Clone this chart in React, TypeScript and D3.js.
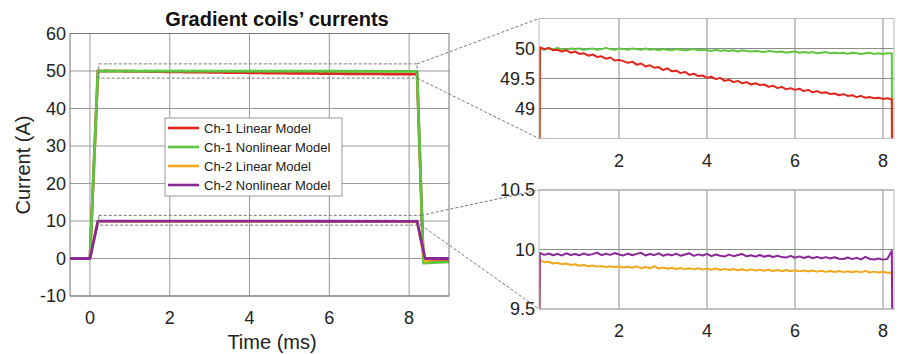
import * as d3 from 'd3';
import { useEffect, useRef } from 'react';

// time base of the flat top (ms)
const flatTimes = d3.range(0, 81).map(i => +(0.2 + i * 0.1).toFixed(2));

const ch1Linear = [
  50.02, 49.99, 50.01, 49.97, 49.98, 49.95, 49.97, 49.93, 49.95, 49.91,
  49.92, 49.88, 49.9, 49.86, 49.87, 49.83, 49.85, 49.8, 49.81, 49.79,
  49.76, 49.78, 49.73, 49.75, 49.7, 49.72, 49.68, 49.69, 49.64, 49.67,
  49.62, 49.63, 49.59, 49.61, 49.56, 49.58, 49.54, 49.55, 49.51, 49.53,
  49.49, 49.51, 49.46, 49.48, 49.44, 49.46, 49.42, 49.44, 49.4, 49.42,
  49.39, 49.4, 49.36, 49.38, 49.34, 49.36, 49.32, 49.34, 49.31, 49.33,
  49.29, 49.31, 49.27, 49.29, 49.26, 49.27, 49.24, 49.25, 49.22, 49.24,
  49.21, 49.22, 49.19, 49.21, 49.18, 49.19, 49.17, 49.18, 49.16, 49.17,
  49.15,
];
const ch1Nonlinear = [
  50.0, 49.98, 50.0, 49.99, 50.01, 49.99, 49.98, 50.0, 49.99, 50.0,
  49.98, 49.99, 50.0, 49.98, 49.99, 50.01, 49.99, 49.98, 50.0, 49.99,
  49.98, 50.0, 49.99, 49.98, 50.0, 49.98, 49.99, 49.97, 49.99, 49.98,
  49.97, 49.99, 49.98, 49.97, 49.98, 49.99, 49.97, 49.98, 49.97, 49.96,
  49.98, 49.96, 49.97, 49.96, 49.97, 49.95, 49.97, 49.96, 49.95, 49.96,
  49.95, 49.94, 49.96, 49.95, 49.94, 49.95, 49.93, 49.94, 49.95, 49.93,
  49.94, 49.93, 49.94, 49.92, 49.93, 49.94, 49.92, 49.93, 49.92, 49.93,
  49.91, 49.93, 49.92, 49.91, 49.92, 49.93, 49.91, 49.92, 49.91, 49.92,
  49.92,
];
const ch2Linear = [
  9.912, 9.893, 9.897, 9.882, 9.888, 9.876, 9.882, 9.87, 9.876, 9.864,
  9.87, 9.86, 9.866, 9.856, 9.862, 9.852, 9.86, 9.851, 9.857, 9.848,
  9.855, 9.847, 9.858, 9.843, 9.853, 9.842, 9.86, 9.84, 9.848, 9.839,
  9.847, 9.836, 9.845, 9.835, 9.842, 9.833, 9.843, 9.831, 9.839, 9.83,
  9.84, 9.828, 9.837, 9.827, 9.836, 9.825, 9.834, 9.824, 9.833, 9.823,
  9.831, 9.821, 9.83, 9.82, 9.828, 9.818, 9.827, 9.817, 9.825, 9.816,
  9.824, 9.815, 9.823, 9.814, 9.821, 9.812, 9.82, 9.811, 9.819, 9.81,
  9.818, 9.809, 9.817, 9.808, 9.82, 9.807, 9.814, 9.806, 9.813, 9.805,
  9.806,
];
const ch2Nonlinear = [
  9.972, 9.955, 9.966, 9.952, 9.963, 9.95, 9.968, 9.954, 9.962, 9.951,
  9.967, 9.953, 9.961, 9.974, 9.952, 9.965, 9.955, 9.97, 9.958, 9.95,
  9.966, 9.952, 9.963, 9.972, 9.95, 9.962, 9.953, 9.968, 9.948, 9.96,
  9.951, 9.965, 9.947, 9.958, 9.968, 9.946, 9.959, 9.95, 9.963, 9.944,
  9.958, 9.947, 9.942, 9.957, 9.944, 9.953, 9.962, 9.943, 9.952, 9.94,
  9.954, 9.939, 9.949, 9.937, 9.947, 9.936, 9.932, 9.946, 9.931, 9.942,
  9.929, 9.941, 9.927, 9.938, 9.926, 9.936, 9.924, 9.935, 9.922, 9.92,
  9.933, 9.919, 9.93, 9.917, 9.938, 9.92, 9.916, 9.924, 9.915, 9.921,
  9.99,
];

// before the pulse (all channels at 0)
const preTimes = [-0.5, 0];
const preValues = [0, 0];
// after the pulse
const ch1FallTimes = [8.36, 8.6, 9];
const ch1LinearFall = [-1.0, -0.8, -0.6];
const ch1NonlinearFall = [-1.2, -1.1, -0.9];
const ch2FallTimes = [8.4, 8.6, 9];
const ch2LinearFall = [-0.8, -0.2, 0];
const ch2NonlinearFall = [0, 0, 0];

const seriesNames = ['Ch-1 Linear Model', 'Ch-1 Nonlinear Model', 'Ch-2 Linear Model', 'Ch-2 Nonlinear Model'];
const seriesColors = ['#e3261d', '#5cc641', '#f0a81c', '#8a2896'];

// zoomed regions [t0, t1, i0, i1]
const zoomUpper = [0.22, 8.2, 48.1, 51.9];
const zoomLower = [0.22, 8.3, 8.9, 11.5];

const mainYTicks = [-10, 0, 10, 20, 30, 40, 50, 60];
const mainXTicks = [0, 2, 4, 6, 8];
const insetXTicks = [2, 4, 6, 8];
const upperYTicks = [49, 49.5, 50];
const lowerYTicks = [9.5, 10, 10.5];

const build = (flat: number[], fallT: number[], fallV: number[]) => [
  ...preTimes.map((t, i) => [t, preValues[i]]),
  ...flatTimes.map((t, i) => [t, flat[i]]),
  ...fallT.map((t, i) => [t, fallV[i]]),
] as [number, number][];

const FONT = "'Liberation Sans', Arial, sans-serif";

const App = () => {
  const ref = useRef<SVGSVGElement>(null);

  useEffect(() => {
    const svg = d3.select(ref.current);
    svg.selectAll('*').remove();

    const all = [
      build(ch1Linear, ch1FallTimes, ch1LinearFall),
      build(ch1Nonlinear, ch1FallTimes, ch1NonlinearFall),
      build(ch2Linear, ch2FallTimes, ch2LinearFall),
      build(ch2Nonlinear, ch2FallTimes, ch2NonlinearFall),
    ];

    const drawPanel = (opts: {
      id: string; x: d3.ScaleLinear<number, number>; y: d3.ScaleLinear<number, number>;
      xTicks: number[]; yTicks: number[]; which: number[]; lw: number;
      gridColor: string; frameColor: string;
    }) => {
      const { id, x, y, xTicks, yTicks, which, lw } = opts;
      const [x0, x1] = x.range();
      const [y0, y1] = y.range();
      const g = svg.append('g');

      g.append('rect').attr('x', x0).attr('y', y1).attr('width', x1 - x0).attr('height', y0 - y1)
        .attr('fill', '#fff');

      g.selectAll('.vg').data(xTicks).enter().append('line')
        .attr('x1', d => x(d)).attr('x2', d => x(d)).attr('y1', y1).attr('y2', y0)
        .attr('stroke', opts.gridColor).attr('stroke-width', 1);
      g.selectAll('.hg').data(yTicks).enter().append('line')
        .attr('x1', x0).attr('x2', x1).attr('y1', d => y(d)).attr('y2', d => y(d))
        .attr('stroke', opts.gridColor).attr('stroke-width', 1);

      svg.append('clipPath').attr('id', id).append('rect')
        .attr('x', x0).attr('y', y1).attr('width', x1 - x0).attr('height', y0 - y1);

      const line = d3.line<[number, number]>().x(d => x(d[0])).y(d => y(d[1]));
      const lines = g.append('g').attr('clip-path', `url(#${id})`);
      which.forEach(k => {
        lines.append('path').attr('d', line(all[k])).attr('fill', 'none')
          .attr('stroke', seriesColors[k]).attr('stroke-width', lw).attr('stroke-linejoin', 'round');
      });

      g.append('rect').attr('x', x0).attr('y', y1).attr('width', x1 - x0).attr('height', y0 - y1)
        .attr('fill', 'none').attr('stroke', opts.frameColor).attr('stroke-width', 1);

      g.selectAll('.xl').data(xTicks).enter().append('text')
        .attr('x', d => x(d)).attr('y', y0 + 28).attr('text-anchor', 'middle')
        .attr('font-family', FONT).attr('font-size', 18).attr('fill', '#222')
        .text(d => d);
      g.selectAll('.yl').data(yTicks).enter().append('text')
        .attr('x', x0 - 4).attr('y', d => y(d)).attr('dy', '0.36em').attr('text-anchor', 'end')
        .attr('font-family', FONT).attr('font-size', 18).attr('fill', '#222')
        .text(d => d);
      return g;
    };

    // main plot
    const xMain = d3.scaleLinear().domain([-0.5, 9]).range([70, 449]);
    const yMain = d3.scaleLinear().domain([-10, 60]).range([296, 33.5]);
    drawPanel({ id: 'clipMain', x: xMain, y: yMain, xTicks: mainXTicks, yTicks: mainYTicks,
      which: [0, 1, 2, 3], lw: 2.8, gridColor: '#999', frameColor: '#777' });

    // insets
    const xIn = d3.scaleLinear().domain([0.18, 8.25]).range([539, 894]);
    const yUp = d3.scaleLinear().domain([48.5, 50.5]).range([138.5, 18.5]);
    const yLo = d3.scaleLinear().domain([9.5, 10.5]).range([309, 190]);
    drawPanel({ id: 'clipUp', x: xIn, y: yUp, xTicks: insetXTicks, yTicks: upperYTicks,
      which: [1, 0], lw: 2, gridColor: '#8c8c8c', frameColor: '#bbb' });
    drawPanel({ id: 'clipLo', x: xIn, y: yLo, xTicks: insetXTicks, yTicks: lowerYTicks,
      which: [2, 3], lw: 2, gridColor: '#8c8c8c', frameColor: '#bbb' });

    // zoom boxes and connectors
    const dash = svg.append('g').attr('stroke', '#777').attr('stroke-width', 1)
      .attr('stroke-dasharray', '3,2').attr('fill', 'none');
    [[zoomUpper, yUp], [zoomLower, yLo]].forEach(([z, yi]: any) => {
      const [t0, t1, i0, i1] = z;
      const bx0 = xMain(t0), bx1 = xMain(t1), by0 = yMain(i0), by1 = yMain(i1);
      dash.append('rect').attr('x', bx0).attr('y', by1).attr('width', bx1 - bx0).attr('height', by0 - by1);
      const [iy0, iy1] = yi.range();
      const ix = xIn.range()[0];
      dash.append('line').attr('x1', bx1).attr('y1', by1).attr('x2', ix).attr('y2', iy1);
      dash.append('line').attr('x1', bx1).attr('y1', by0).attr('x2', ix).attr('y2', iy0);
    });

    // legend
    const lg = svg.append('g').attr('transform', 'translate(165,118)');
    lg.append('rect').attr('width', 177).attr('height', 78).attr('fill', '#fff')
      .attr('stroke', '#999').attr('stroke-width', 1);
    seriesNames.forEach((name, i) => {
      const cy = 10 + i * 19;
      lg.append('line').attr('x1', 3).attr('x2', 34).attr('y1', cy).attr('y2', cy)
        .attr('stroke', seriesColors[i]).attr('stroke-width', 2.6);
      lg.append('text').attr('x', 39).attr('y', cy).attr('dy', '0.36em')
        .attr('font-family', FONT).attr('font-size', 13).attr('fill', '#222').text(name);
    });

    // titles
    svg.append('text').attr('x', 277).attr('y', 26).attr('text-anchor', 'middle')
      .attr('font-family', FONT).attr('font-size', 20).attr('font-weight', 'bold')
      .attr('fill', '#111').text('Gradient coils\u2019 currents');
    svg.append('text').attr('x', 272).attr('y', 349).attr('text-anchor', 'middle')
      .attr('font-family', FONT).attr('font-size', 20).attr('fill', '#222').text('Time (ms)');
    svg.append('text').attr('transform', 'translate(30,165) rotate(-90)').attr('text-anchor', 'middle')
      .attr('font-family', FONT).attr('font-size', 20).attr('fill', '#222').text('Current (A)');
  }, []);

  return (
    <svg ref={ref} width={903} height={354}
      style={{ position: 'absolute', left: 0, top: 0, background: '#fff' }} />
  );
};

export default App;
